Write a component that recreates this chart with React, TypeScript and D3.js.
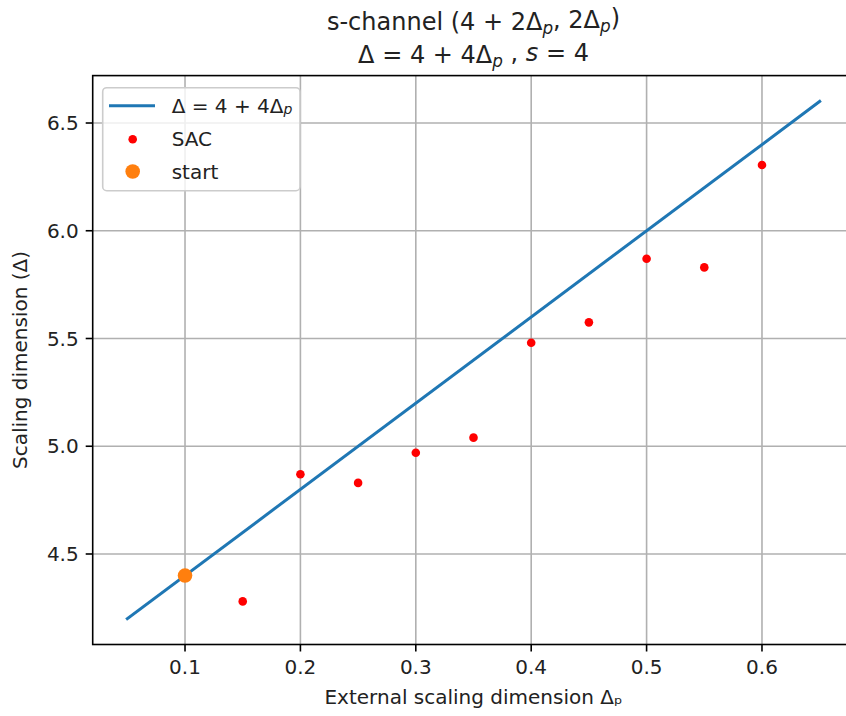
import React from "react";
import * as d3 from "d3";

const sacX = [0.15, 0.2, 0.25, 0.3, 0.35, 0.4, 0.45, 0.5, 0.55, 0.6];
const sacY = [4.28, 4.87, 4.83, 4.97, 5.04, 5.48, 5.575, 5.87, 5.83, 6.305];
const lineX = [0.05, 0.65];
const lineY = [4.2, 6.6];
const startX = [0.1];
const startY = [4.4];
const xTicks = [0.1, 0.2, 0.3, 0.4, 0.5, 0.6];
const xTickLabels = ["0.1", "0.2", "0.3", "0.4", "0.5", "0.6"];
const yTicks = [4.5, 5.0, 5.5, 6.0, 6.5];
const yTickLabels = ["4.5", "5.0", "5.5", "6.0", "6.5"];

const W = 846;
const H = 716;
const L = 92.7, R = 854.3, T = 75.6, B = 644.5;
const FONT = "DejaVu Sans";
const BLUE = "#1f77b4";
const ORANGE = "#ff7f0e";
const RED = "#ff0000";

export default function App() {
  const x = d3.scaleLinear().domain([0.02, 0.68]).range([L, R]);
  const y = d3.scaleLinear().domain([4.08, 6.72]).range([B, T]);
  const lineGen = d3
    .line<number>()
    .x((d, i) => x(lineX[i]))
    .y((d) => y(d));

  const sub = (t: string, italic = true) => (
    <tspan fontSize="0.7em" dy="0.25em" fontStyle={italic ? "italic" : "normal"}>
      {t}
    </tspan>
  );

  return (
    <svg
      width={W}
      height={H}
      style={{ position: "absolute", left: 0, top: 0, background: "#fff" }}
      fontFamily={FONT}
    >
      <rect x={0} y={0} width={W} height={H} fill="#fff" />
      <defs>
        <clipPath id="clip">
          <rect x={L} y={T} width={R - L} height={B - T} />
        </clipPath>
      </defs>
      {/* grid */}
      <g stroke="#b0b0b0" strokeWidth={1.6}>
        {xTicks.map((t) => (
          <line key={"gx" + t} x1={x(t)} x2={x(t)} y1={T} y2={B} />
        ))}
        {yTicks.map((t) => (
          <line key={"gy" + t} x1={L} x2={R} y1={y(t)} y2={y(t)} />
        ))}
      </g>
      <g clipPath="url(#clip)">
        <path
          d={lineGen(lineY) || ""}
          fill="none"
          stroke={BLUE}
          strokeWidth={3}
          strokeLinecap="square"
        />
        {sacX.map((v, i) => (
          <circle key={"s" + i} cx={x(v)} cy={y(sacY[i])} r={4.3} fill={RED} />
        ))}
        {startX.map((v, i) => (
          <circle key={"st" + i} cx={x(v)} cy={y(startY[i])} r={7.3} fill={ORANGE} />
        ))}
      </g>
      {/* spines */}
      <g stroke="#000" strokeWidth={1.6} fill="none">
        <rect x={L} y={T} width={R - L} height={B - T} />
      </g>
      {/* ticks */}
      <g stroke="#000" strokeWidth={1.6}>
        {xTicks.map((t) => (
          <line key={"tx" + t} x1={x(t)} x2={x(t)} y1={B} y2={B + 7} />
        ))}
        {yTicks.map((t) => (
          <line key={"ty" + t} x1={L - 7} x2={L} y1={y(t)} y2={y(t)} />
        ))}
      </g>
      <g fontSize={20} fill="#262626">
        {xTicks.map((t, i) => (
          <text key={"lx" + t} x={x(t)} y={B + 14} textAnchor="middle" dominantBaseline="hanging" fill="#222">
            {xTickLabels[i]}
          </text>
        ))}
        {yTicks.map((t, i) => (
          <text key={"ly" + t} x={L - 14} y={y(t)} textAnchor="end" dominantBaseline="central" fill="#222">
            {yTickLabels[i]}
          </text>
        ))}
      </g>
      {/* axis labels */}
      <text x={(L + R) / 2} y={704} textAnchor="middle" fontSize={20} fill="#222">
        External scaling dimension Δₚ
      </text>
      <text
        transform={`translate(27, ${(T + B) / 2}) rotate(-90)`}
        textAnchor="middle"
        fontSize={20}
        fill="#222"
      >
        Scaling dimension (Δ)
      </text>
      {/* title */}
      <text x={(L + R) / 2} y={30} textAnchor="middle" fontSize={24} fill="#222">
        s-channel (4 + 2Δ{sub("p")}
        <tspan dy="-0.25em">, 2Δ</tspan>
        {sub("p")}
        <tspan dy="-0.25em">)</tspan>
      </text>
      <text x={(L + R) / 2} y={63} textAnchor="middle" fontSize={24} fill="#222">
        Δ = 4 + 4Δ{sub("p")}
        <tspan dy="-0.25em"> , </tspan>
        <tspan fontStyle="italic">s</tspan> = 4
      </text>
      {/* legend */}
      <g>
        <rect
          x={102.7}
          y={87.7}
          width={197.3}
          height={103}
          rx={4}
          fill="#fff"
          fillOpacity={0.8}
          stroke="#cccccc"
          strokeWidth={1.6}
        />
        <line x1={109} x2={155} y1={105.7} y2={105.7} stroke={BLUE} strokeWidth={3} />
        <circle cx={132.7} cy={139.3} r={4.3} fill={RED} />
        <circle cx={132.7} cy={171.5} r={7.3} fill={ORANGE} />
        <g fontSize={20} fill="#222">
          <text x={171.7} y={105.7} dominantBaseline="central">
            Δ = 4 + 4Δ{sub("p")}
          </text>
          <text x={171.7} y={139.3} dominantBaseline="central">
            SAC
          </text>
          <text x={171.7} y={171.5} dominantBaseline="central">
            start
          </text>
        </g>
      </g>
    </svg>
  );
}
